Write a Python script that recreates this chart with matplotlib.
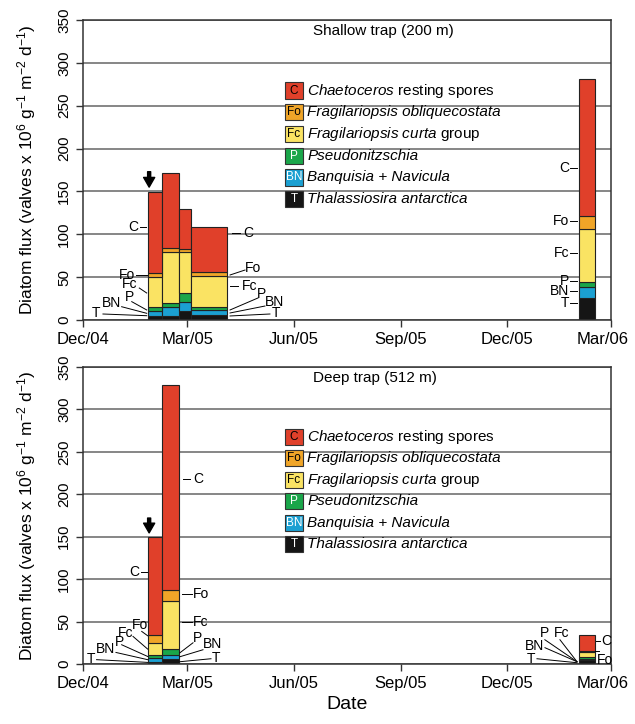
import matplotlib
matplotlib.use("Agg")
import matplotlib.pyplot as plt
import matplotlib.dates as mdates
from matplotlib.patches import Rectangle

plt.rcParams['font.family'] = 'Liberation Sans'
plt.rcParams['mathtext.fontset'] = 'custom'
plt.rcParams['mathtext.rm'] = 'Liberation Sans'
plt.rcParams['mathtext.it'] = 'Liberation Sans:italic'

# Taxa, stacked bottom -> top
groups = ['T', 'BN', 'P', 'Fc', 'Fo', 'C']
colors = {'C': '#E0402A', 'Fo': '#F0A528', 'Fc': '#FAE363',
          'P': '#1AA64A', 'BN': '#1BA0D2', 'T': '#151515'}
# (text, all italic?)
legend_names = {
    'C': (r'$\it{Chaetoceros}$ resting spores', False),
    'Fo': ('Fragilariopsis obliquecostata', True),
    'Fc': (r'$\it{Fragilariopsis\ curta}$ group', False),
    'P': ('Pseudonitzschia', True),
    'BN': ('Banquisia + Navicula', True),
    'T': ('Thalassiosira antarctica', True),
}
letter_color = {'C': 'black', 'Fo': 'black', 'Fc': 'black',
                'P': 'white', 'BN': 'white', 'T': 'white'}

# Shallow trap (200 m): sampling cups
shallow_start = ['2005-01-26', '2005-02-07', '2005-02-22', '2005-03-04', '2006-02-01']
shallow_end = ['2005-02-07', '2005-02-22', '2005-03-04', '2005-04-04', '2006-02-15']
shallow = {
    'T': [5.0, 4.7, 10.9, 5.8, 25.3],
    'BN': [5.0, 10.9, 10.1, 5.9, 13.6],
    'P': [5.0, 4.4, 11.0, 3.1, 5.8],
    'Fc': [35.5, 59.8, 47.0, 36.2, 61.3],
    'Fo': [4.5, 3.8, 4.0, 5.4, 15.7],
    'C': [94.0, 87.4, 46.5, 52.1, 159.3],
}

# Deep trap (512 m)
deep_start = ['2005-01-26', '2005-02-07', '2006-02-01']
deep_end = ['2005-02-07', '2005-02-22', '2006-02-15']
deep = {
    'T': [2.7, 5.9, 5.0],
    'BN': [3.9, 4.3, 1.3],
    'P': [4.0, 7.8, 1.5],
    'Fc': [14.1, 56.8, 6.0],
    'Fo': [8.9, 12.6, 1.8],
    'C': [116.4, 241.2, 18.9],
}

tick_dates = ['2004-12-01', '2005-03-01', '2005-06-01', '2005-09-01', '2005-12-01', '2006-03-01']
tick_labels = ['Dec/04', 'Mar/05', 'Jun/05', 'Sep/05', 'Dec/05', 'Mar/06']
yticks = [0, 50, 100, 150, 200, 250, 300, 350]

BASE = mdates.datestr2num('2004-12-01')


def d(day):
    return BASE + day


def draw_bars(ax, starts, ends, data):
    x0 = mdates.datestr2num(starts)
    x1 = mdates.datestr2num(ends)
    bottom = [0.0] * len(x0)
    for g in groups:
        ax.bar(x0, data[g], width=x1 - x0, bottom=bottom, align='edge',
               color=colors[g], edgecolor='#222222', linewidth=0.8, zorder=2)
        bottom = [b + v for b, v in zip(bottom, data[g])]


def setup(ax, title):
    ax.set_xlim(BASE, mdates.datestr2num('2006-03-01'))
    ax.set_ylim(0, 350)
    ax.set_xticks(mdates.datestr2num(tick_dates))
    # last label is drawn by hand, nudged left so it stays inside the figure
    ax.set_xticklabels(tick_labels[:-1] + [''], fontsize=12)
    ax.annotate(tick_labels[-1], xy=(1, 0), xycoords='axes fraction',
                xytext=(-6, -8.5), textcoords='offset points',
                ha='center', va='top', fontsize=12)
    ax.set_yticks(yticks)
    ax.set_yticklabels([str(v) for v in yticks], fontsize=11, rotation=90, va='center')
    ax.tick_params(direction='out', length=5, width=1, color='#333333')
    ax.grid(axis='y', color='#666666', linewidth=1.1)
    ax.set_axisbelow(True)
    for s in ax.spines.values():
        s.set_color('#333333')
        s.set_linewidth(1.1)
    ax.set_ylabel(r'Diatom flux (valves x 10$^6$ g$^{-1}$ m$^{-2}$ d$^{-1}$)', fontsize=12.5)
    ax.yaxis.set_label_coords(-0.085, 0.5)
    ax.text(0.436, 0.963, title, transform=ax.transAxes, fontsize=11, ha='left', va='center')


def legend(ax, top=0.765, step=0.0725):
    for i, g in enumerate(['C', 'Fo', 'Fc', 'P', 'BN', 'T']):
        y = top - i * step
        ax.add_patch(Rectangle((0.383, y - 0.027), 0.033, 0.054, transform=ax.transAxes,
                               facecolor=colors[g], edgecolor='#333333', linewidth=0.8,
                               zorder=3))
        ax.text(0.3995, y, g, transform=ax.transAxes, ha='center', va='center',
                fontsize=8.5, color=letter_color[g], zorder=4)
        name, italic = legend_names[g]
        ax.text(0.425, y, name, transform=ax.transAxes, ha='left', va='center',
                fontsize=11, style='italic' if italic else 'normal', zorder=4)


def tag(ax, text, tx, ty, line=None, ha='center'):
    ax.text(d(tx), ty, text, ha=ha, va='center', fontsize=10, zorder=4)
    if line is not None:
        (ax0, ay0), (ax1, ay1) = line
        ax.plot([d(ax0), d(ax1)], [ay0, ay1], color='black', linewidth=0.7, zorder=4)


def arrow(ax, day, y0, y1):
    ax.annotate('', xy=(d(day), y1), xytext=(d(day), y0),
                arrowprops=dict(width=2.2, headwidth=8, headlength=7,
                                facecolor='black', edgecolor='black'), zorder=5)


fig = plt.figure(figsize=(6.35, 7.24), dpi=100)
ax1 = fig.add_axes([83 / 635, (724 - 320) / 724, 528 / 635, 300 / 724])
ax2 = fig.add_axes([83 / 635, (724 - 664) / 724, 528 / 635, 297 / 724])

# ---- shallow trap
setup(ax1, 'Shallow trap (200 m)')
draw_bars(ax1, shallow_start, shallow_end, shallow)
legend(ax1)
arrow(ax1, 57, 173, 155)

tag(ax1, 'C', 47.4, 108.5, ((49.1, 108.5), (54.3, 108.5)), ha='right')
tag(ax1, 'Fo', 44.8, 52.5, ((45.7, 52.5), (55.1, 52.5)), ha='right')
tag(ax1, 'Fc', 46.5, 41.5, ((48.5, 37.3), (54.9, 31.5)), ha='right')
tag(ax1, 'P', 40.5, 26.8, ((42.0, 21.4), (54.9, 11.7)))
tag(ax1, 'BN', 24.6, 19.8, ((33.3, 15.5), (54.9, 7.8)))
tag(ax1, 'T', 11.6, 8.2, ((17.2, 7.0), (54.9, 5.0)))

tag(ax1, 'C', 137.9, 101.5, ((128.1, 101.5), (135.3, 101.5)), ha='left')
tag(ax1, 'Fo', 139.6, 60.7, ((126.7, 52.5), (139.6, 58.3)), ha='left')
tag(ax1, 'Fc', 137.0, 39.7, ((126.9, 39.7), (133.8, 39.7)), ha='left')
tag(ax1, 'P', 153.8, 30.3, ((126.7, 11.7), (150.8, 25.7)))
tag(ax1, 'BN', 156.8, 21.0, ((126.7, 8.2), (156.8, 16.3)), ha='left')
tag(ax1, 'T', 162.9, 8.2, ((126.7, 4.7), (161.1, 7.0)), ha='left')

for txt, yv in [('C', 177.4), ('Fo', 115.5), ('Fc', 78.2), ('P', 45.5), ('BN', 34.0), ('T', 20.0)]:
    tag(ax1, txt, 418.8, yv, ((419.6, yv), (425.7, yv)), ha='right')

# ---- deep trap
setup(ax2, 'Deep trap (512 m)')
draw_bars(ax2, deep_start, deep_end, deep)
legend(ax2)
arrow(ax2, 57, 172, 154.5)
ax2.set_xlabel('Date', fontsize=14)

tag(ax2, 'C', 48.3, 108.6, ((49.9, 108.6), (55.1, 108.6)), ha='right')
tag(ax2, 'Fo', 49.5, 46.2, ((50.6, 38.4), (55.7, 33.3)))
tag(ax2, 'Fc', 36.6, 36.8, ((43.1, 32.5), (55.7, 17.6)))
tag(ax2, 'P', 31.5, 26.2, ((33.3, 22.7), (55.7, 8.9)))
tag(ax2, 'BN', 19.8, 18.0, ((28.4, 13.6), (55.7, 5.1)))
tag(ax2, 'T', 6.9, 6.2, ((11.7, 5.1), (55.7, 1.9)))

tag(ax2, 'C', 94.8, 218.0, ((86.2, 218.0), (92.2, 218.0)), ha='left')
tag(ax2, 'Fo', 94.8, 83.0, ((85.3, 83.0), (93.9, 83.0)), ha='left')
tag(ax2, 'Fc', 94.8, 49.8, ((85.3, 49.8), (93.9, 49.8)), ha='left')
tag(ax2, 'P', 94.8, 31.0, ((83.6, 13.3), (94.8, 25.0)), ha='left')
tag(ax2, 'BN', 103.4, 23.9, ((83.6, 8.6), (103.4, 16.8)), ha='left')
tag(ax2, 'T', 111.2, 7.4, ((83.6, 2.7), (110.3, 6.2)), ha='left')

tag(ax2, 'C', 446.4, 27.4, ((442.1, 27.4), (445.5, 27.4)), ha='left')
tag(ax2, 'Fo', 443.0, 5.0, ((441.6, 15.6), (445.0, 15.6)), ha='left')
tag(ax2, 'Fc', 412.7, 36.8, ((411.0, 28.6), (425.7, 2.7)))
tag(ax2, 'P', 398.1, 36.8, ((398.0, 28.6), (425.7, 2.7)))
tag(ax2, 'BN', 389.5, 21.5, ((398.1, 19.2), (425.7, 2.7)))
tag(ax2, 'T', 386.0, 6.2, ((391.2, 6.2), (425.7, 1.5)))

fig.savefig('out.png', dpi=100)
